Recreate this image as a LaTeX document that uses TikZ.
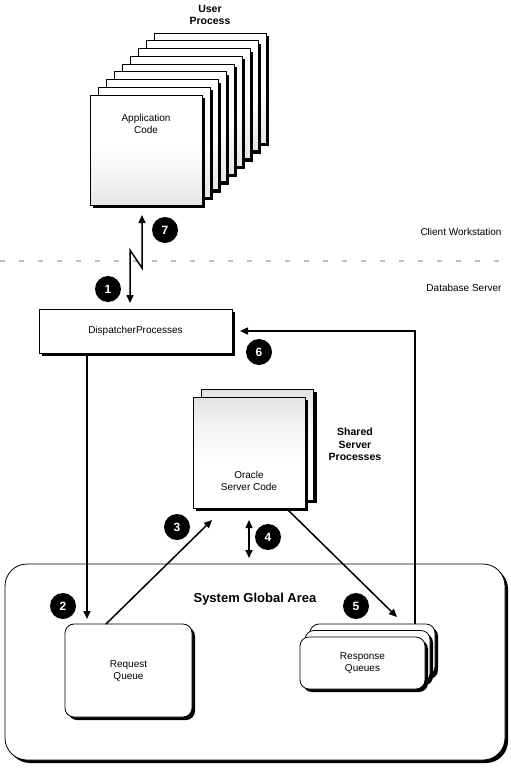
\documentclass[tikz,border=0pt]{standalone}
\usepackage{fontspec}
\setmainfont{Liberation Sans}
\usepackage{tikz}
\usetikzlibrary{arrows.meta,positioning,shadows,calc}

% shadings, box part mapped to 25bp..75bp
\pgfdeclareverticalshading{appshade}{100bp}{color(0bp)=(gray!20); color(25bp)=(gray!20); color(40bp)=(gray!8); color(53bp)=(white); color(100bp)=(white)}
\pgfdeclareverticalshading{srvshade}{100bp}{color(0bp)=(white); color(46bp)=(white); color(62bp)=(gray!9); color(75bp)=(gray!22); color(100bp)=(gray!22)}

\begin{document}
\begin{tikzpicture}[
    x=1pt, y=-1pt,
    font=\fontsize{10}{12}\selectfont,
    boxshadow/.style={drop shadow={opacity=1, fill=black, shadow xshift=3pt, shadow yshift=-3pt}},
    appbox/.style={draw, line width=0.8pt, shading=appshade, inner sep=0pt, outer sep=0pt, minimum width=112pt, minimum height=110pt, boxshadow},
    srvbox/.style={draw, line width=0.8pt, shading=srvshade, inner sep=0pt, outer sep=0pt, minimum width=112pt, minimum height=111pt, boxshadow},
    plainbox/.style={draw, line width=0.8pt, fill=white, inner sep=0pt, outer sep=0pt, boxshadow},
    queuebox/.style={plainbox, rounded corners=9pt, align=center},
    txt/.style={align=center, inner sep=1pt},
    heading/.style={align=center, inner sep=1pt, font=\bfseries\fontsize{10.5}{12.5}\selectfont},
    num/.style={circle, fill=black, text=white, inner sep=0pt, minimum size=26pt, font=\bfseries\fontsize{12}{12}\selectfont},
    link/.style={line width=1.5pt},
    divider/.style={gray!50, line width=1.5pt, dash pattern=on 5pt off 14pt},
    >={Triangle[length=8pt, width=7pt]}
  ]
    \useasboundingbox (0,0) rectangle (511,769);

    % user process stack
    \foreach \i in {8,7,...,1}
      \node[appbox] (app\i) at (146+8*\i, 150-7.75*\i) {};
    \node[appbox] (app) at (146,150) {};
    \node[txt] (apptext) at ([yshift=-29pt]app.north) {Application\\Code};
    \node[heading, above=7pt of app8.north] (userlbl) {User\\Process};

    % client / server split
    \draw[divider] (0,261) -- (511,261);
    \node[txt] (client) at (461,232) {Client Workstation};
    \node[txt] (dbserver) at (464,288) {Database Server};

    % dispatcher
    \node[plainbox, minimum width=193pt, minimum height=44pt] (disp) at (135.5,331) {DispatcherProcesses};

    % shared server processes
    \node[srvbox] (oracleback) at (257.5,444.5) {};
    \node[srvbox] (oracle) at (249,452.5) {};
    \node[txt] (oracletext) at ([yshift=27pt]oracle.south) {Oracle\\Server Code};
    \node[heading, right=14pt of oracleback] (srvlbl) {Shared\\Server\\Processes};

    % system global area
    \node[plainbox, rounded corners=22pt, minimum width=500pt, minimum height=196pt] (sga) at (255,662) {};
    \node[font=\bfseries\fontsize{13}{13}\selectfont] (sgalbl) at (255,599) {System Global Area};
    \node[queuebox, minimum width=127pt, minimum height=93pt] (reqq) at (128.5,670.5) {Request\\Queue};
    \node[queuebox, minimum width=125pt, minimum height=52pt] (respq3) at (372.5,650) {};
    \node[queuebox, minimum width=125pt, minimum height=52pt] (respq2) at (367.5,656.5) {};
    \node[queuebox, minimum width=125pt, minimum height=52pt] (respq) at (362.5,663) {Response\\Queues};

    % connectors
    \draw[link, <->, shorten <=10pt, shorten >=6pt] ([xshift=-4pt]app.south) -- ++(0,63) -- ++(-12,-18) -- ([xshift=-5.5pt]disp.north);
    \draw[link, ->] ([xshift=-48.5pt]disp.south) -- ([xshift=-41.5pt, yshift=5pt]reqq.north);
    \draw[link, ->] ([xshift=-22.5pt]reqq.north) -- ([xshift=19pt, yshift=-12pt]oracle.south west);
    \draw[link, <->, shorten <=12pt, shorten >=6pt] (oracle.south) -- (oracle.south |- sga.north);
    \draw[link, ->] ([xshift=-17pt, yshift=-2pt]oracle.south east) -- ([xshift=34.5pt, yshift=20pt]respq.north);
    \draw[link, ->, shorten >=8pt] ([xshift=42.5pt]respq3.north) |- (disp.east);

    % step numbers
    \node[num] (n1) at (108,289) {1};
    \node[num] (n2) at (63,606) {2};
    \node[num] (n3) at (177,527) {3};
    \node[num] (n4) at (268,537) {4};
    \node[num] (n5) at (356,606) {5};
    \node[num] (n6) at (259,352) {6};
    \node[num] (n7) at (165,230) {7};
  \end{tikzpicture}
\end{document}
